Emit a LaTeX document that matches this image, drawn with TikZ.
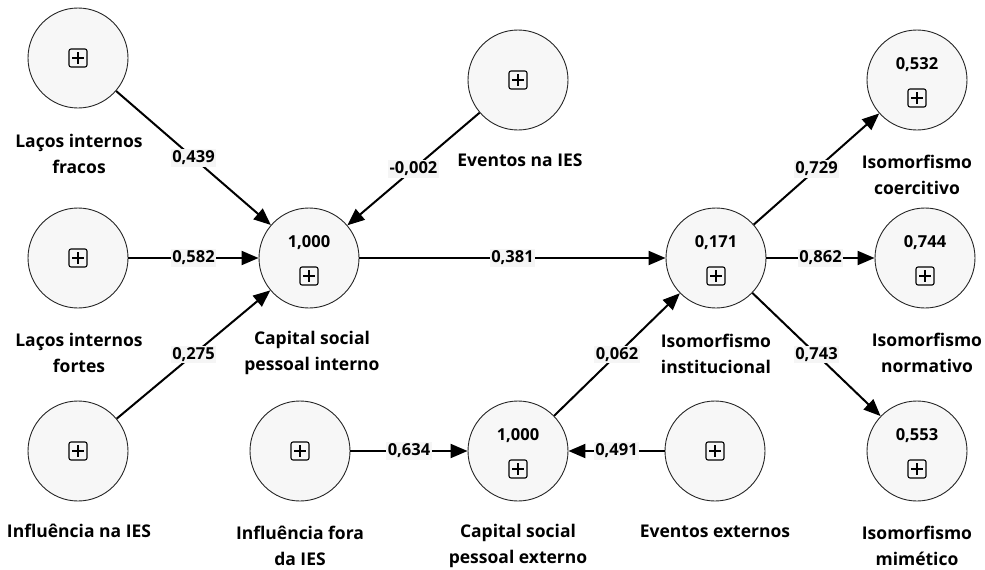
\documentclass[tikz,border=0pt]{standalone}
\usepackage{fontspec}
\setmainfont{Open Sans}
\usetikzlibrary{arrows.meta}

\tikzset{
  lv/.style={circle, draw=black!85, line width=0.9pt, fill=black!3,
    minimum size=100pt, inner sep=0pt},
  rel/.style={line width=2pt, -{Triangle[length=17pt,width=14pt]}},
  coef/.style={fill=black!4, inner sep=1.5pt, font=\fontsize{16.5}{18}\selectfont\bfseries},
  rsq/.style={font=\fontsize{16.5}{18}\selectfont\bfseries},
  cname/.style={align=center, font=\fontsize{17.5}{26}\selectfont\bfseries},
  plusbox/.pic={
    \draw[rounded corners=2pt, line width=1.1pt] (-9,-9) rectangle (9,9);
    \draw[line width=1.1pt] (-6,0) -- (6,0) (0,-6) -- (0,6);
  }
}

\begin{document}
\begin{tikzpicture}[x=1pt,y=-1pt]
  \useasboundingbox (0,0) rectangle (985,570);

  % exogenous constructs
  \node[lv] (lfra) at (78,58) {};
  \node[lv] (lfor) at (78,258) {};
  \node[lv] (infi) at (78,451) {};
  \node[lv] (evin) at (518,80) {};
  \node[lv] (inff) at (300,451) {};
  \node[lv] (evex) at (715,451) {};
  \foreach \n in {lfra,lfor,infi,evin,inff,evex}
    \pic at (\n) {plusbox};

  % endogenous constructs
  \node[lv] (csin) at (309,258) {};
  \node[lv] (csex) at (518,451) {};
  \node[lv] (isin) at (716,258) {};
  \node[lv] (isco) at (917,80) {};
  \node[lv] (isno) at (925,258) {};
  \node[lv] (ismi) at (917,451) {};
  \foreach \n/\r in {csin/1{,}000,csex/1{,}000,isin/0{,}171,isco/0{,}532,isno/0{,}744,ismi/0{,}553}{
    \node[rsq] (\n-r) at ([yshift=15pt]\n.center) {\r};
    \pic at ([yshift=-18pt]\n.center) {plusbox};
  }

  % construct names
  \node[cname] (lfra-t) at (79,154) {Laços internos\\fracos};
  \node[cname] (lfor-t) at (79,353) {Laços internos\\fortes};
  \node[cname] (infi-t) at (79,531) {Influência na IES};
  \node[cname] (evin-t) at (520,160) {Eventos na IES};
  \node[cname] (csin-t) at (312,353) {Capital social\\pessoal interno};
  \node[cname] (inff-t) at (300,546) {Influência fora\\da IES};
  \node[cname] (csex-t) at (518,546) {Capital social\\pessoal externo};
  \node[cname] (evex-t) at (715,531) {Eventos externos};
  \node[cname] (isin-t) at (716,354) {Isomorfismo\\institucional};
  \node[cname] (isco-t) at (917,175) {Isomorfismo\\coercitivo};
  \node[cname] (isno-t) at (927,353) {Isomorfismo\\normativo};
  \node[cname] (ismi-t) at (917,546) {Isomorfismo\\mimético};

  % paths
  \draw[rel] (lfra) -- node[coef] {0,439} (csin);
  \draw[rel] (lfor) -- node[coef] {0,582} (csin);
  \draw[rel] (infi) -- node[coef] {0,275} (csin);
  \draw[rel] (evin) -- node[coef] {-0,002} (csin);
  \draw[rel] (csin) -- node[coef] {0,381} (isin);
  \draw[rel] (inff) -- node[coef] {0,634} (csex);
  \draw[rel] (evex) -- node[coef] {0,491} (csex);
  \draw[rel] (csex) -- node[coef] {0,062} (isin);
  \draw[rel] (isin) -- node[coef] {0,729} (isco);
  \draw[rel] (isin) -- node[coef] {0,862} (isno);
  \draw[rel] (isin) -- node[coef] {0,743} (ismi);
\end{tikzpicture}
\end{document}
